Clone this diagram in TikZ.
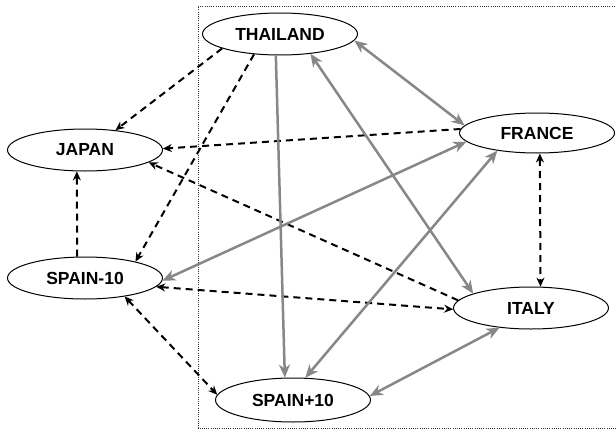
\documentclass[tikz,border=0pt]{standalone}
\usepackage{fontspec}
\setmainfont{Liberation Sans}
\usetikzlibrary{arrows.meta,shapes.geometric}
\definecolor{linkgrey}{RGB}{135,135,135}
\begin{document}
\begin{tikzpicture}[x=1pt,y=-1pt,
  country/.style={ellipse,draw=black,line width=1pt,fill=white,minimum width=155pt,minimum height=42pt,inner sep=0pt,font=\fontsize{17.5}{20}\selectfont\bfseries},
  blk/.tip={Stealth[length=9pt,width=8pt]},
  gry/.tip={Stealth[length=13pt,width=11pt,inset=4pt]},
  dashone/.style={black,line width=2pt,dash pattern=on 7pt off 5pt,-blk},
  dashtwo/.style={black,line width=2pt,dash pattern=on 7pt off 5pt,blk-blk},
  greyone/.style={linkgrey,line width=2.5pt,-gry},
  greytwo/.style={linkgrey,line width=2.5pt,gry-gry},
  frame/.style={black!80,line width=0.9pt,dash pattern=on 1pt off 1.2pt}
]
\useasboundingbox (0,0) rectangle (616,431);
\draw[frame] (617,6) -- (198,6) -- (198,428) -- (617,428);

\node[country] (th) at (280,34) {THAILAND};
\node[country] (ja) at (85,150) {JAPAN};
\node[country,minimum height=40pt] (fr) at (537,133) {FRANCE};
\node[country] (sm) at (85,278) {SPAIN-10};
\node[country] (it) at (531,308) {ITALY};
\node[country,minimum height=44pt] (sp) at (293,400) {SPAIN+10};

% dashed black connectors
\draw[dashone] (th.194.5) -- (ja.33.7);
\draw[dashone] (th.218.7) -- (sm.18.8);
\draw[dashone] (fr.177.8) -- (ja.1.5);
\draw[dashone] (it.174.5) -- (ja.349.5);
\draw[dashone] (sm.110.9) -- (ja.249.1);
\draw[dashtwo] (sm.353.7) -- (it.181.5);
\draw[dashtwo] (sm.335.8) -- (sp.176.3);
\draw[dashtwo] (fr.278.5) -- (it.66.8);

% grey connectors
\draw[greytwo] (th.355.4) -- (fr.174.7);
\draw[greyone] (th.259.2) -- (sp.110);
\draw[greytwo] (th.327.7) -- (it.166.7);
\draw[greytwo] (fr.187) -- (sm.358);
\draw[greytwo] (sp.61) -- (fr.204);
\draw[greytwo] (sp.3) -- (it.212);
\end{tikzpicture}
\end{document}
